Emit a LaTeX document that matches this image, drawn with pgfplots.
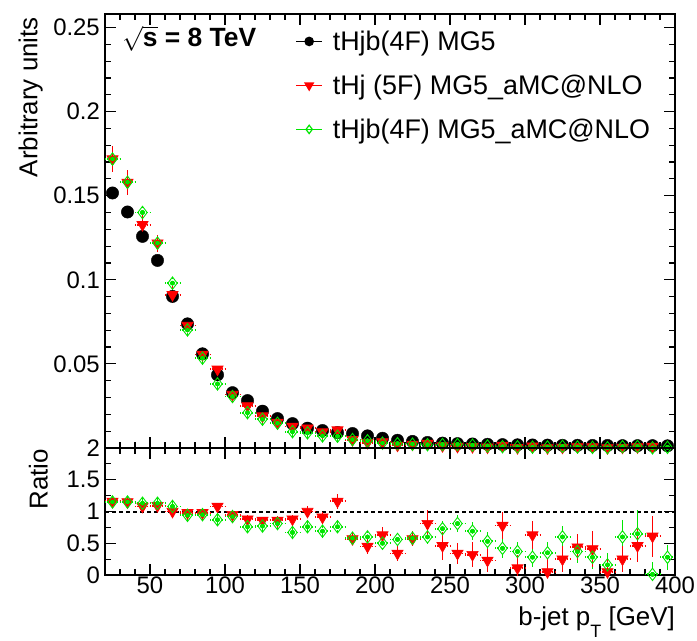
\documentclass[border=0pt]{standalone}
\usepackage{fontspec}
\setmainfont{Liberation Sans}
\usepackage{pgfplots}
\pgfplotsset{compat=1.18}
\usepackage{pgfplotstable}

\definecolor{rootred}{RGB}{255,0,0}
\definecolor{rootgreen}{RGB}{0,230,0}

% black: tHjb(4F) MG5
\pgfplotstableread{
x y
25 0.1516
35 0.1403
45 0.1258
55 0.1115
65 0.0901
75 0.0738
85 0.0560
95 0.0435
105 0.0329
115 0.0282
125 0.0219
135 0.0175
145 0.0145
155 0.0118
165 0.0104
175 0.0092
185 0.0086
195 0.0072
205 0.0058
215 0.0046
225 0.0039
235 0.0033
245 0.0029
255 0.0026
265 0.0024
275 0.0022
285 0.0020
295 0.0019
305 0.0018
315 0.0017
325 0.0016
335 0.0016
345 0.0015
355 0.0015
365 0.0014
375 0.0014
385 0.0014
395 0.0013
}\blackdata

% red: tHj (5F) MG5_aMC@NLO
\pgfplotstableread{
x y e
25 0.1718 0.0080
35 0.1579 0.0075
45 0.1327 0.0060
55 0.1218 0.0050
65 0.0911 0.0050
75 0.0728 0.0030
85 0.0556 0.0025
95 0.0468 0.0022
105 0.0318 0.0018
115 0.0250 0.0015
125 0.0190 0.0013
135 0.0152 0.0012
145 0.0128 0.0010
155 0.0118 0.0010
165 0.0095 0.0009
175 0.0107 0.0010
185 0.0049 0.0008
195 0.0032 0.0007
205 0.0036 0.0007
215 0.0016 0.0006
225 0.0022 0.0006
235 0.0027 0.0006
245 0.0013 0.0005
255 0.0009 0.0005
265 0.0008 0.0005
275 0.0005 0.0004
285 0.0016 0.0004
295 0.0002 0.0004
305 0.0011 0.0004
315 0.0001 0.0004
325 0.0004 0.0004
335 0.0007 0.0004
345 0.0006 0.0004
355 0.0001 0.0003
365 0.0004 0.0003
375 0.0006 0.0003
385 0.0009 0.0003
}\reddata

% green: tHjb(4F) MG5_aMC@NLO
\pgfplotstableread{
x y e
25 0.1718 0.0030
35 0.1580 0.0030
45 0.1400 0.0028
55 0.1218 0.0025
65 0.0980 0.0022
75 0.0702 0.0020
85 0.0534 0.0018
95 0.0381 0.0015
105 0.0306 0.0013
115 0.0210 0.0011
125 0.0171 0.0010
135 0.0147 0.0009
145 0.0097 0.0008
155 0.0090 0.0007
165 0.0072 0.0007
175 0.0070 0.0006
185 0.0050 0.0006
195 0.0043 0.0005
205 0.0029 0.0005
215 0.0026 0.0004
225 0.0023 0.0004
235 0.0020 0.0004
245 0.0021 0.0004
255 0.0021 0.0004
265 0.0017 0.0003
275 0.0012 0.0003
285 0.0008 0.0003
295 0.0007 0.0003
305 0.0005 0.0003
315 0.0006 0.0003
325 0.0010 0.0003
335 0.0006 0.0003
345 0.0004 0.0003
355 0.0002 0.0003
365 0.0008 0.0003
375 0.0009 0.0003
385 0.0001 0.0003
395 0.0004 0.0003
}\greendata

% ratios to black
\pgfplotstableread{
x y e
25 1.16 0.04
35 1.15 0.04
45 1.08 0.04
55 1.09 0.04
65 1.00 0.04
75 0.98 0.04
85 0.98 0.04
95 1.08 0.05
105 0.95 0.05
115 0.88 0.06
125 0.86 0.06
135 0.86 0.07
145 0.88 0.07
155 1.00 0.09
165 0.91 0.09
175 1.16 0.12
185 0.57 0.10
195 0.45 0.12
205 0.63 0.12
215 0.34 0.12
225 0.57 0.12
235 0.81 0.22
245 0.46 0.22
255 0.34 0.16
265 0.32 0.20
275 0.23 0.18
285 0.78 0.22
295 0.11 0.20
305 0.63 0.22
315 0.05 0.20
325 0.25 0.20
335 0.44 0.20
345 0.41 0.29
355 0.05 0.20
365 0.25 0.20
375 0.46 0.26
385 0.61 0.32
}\redratio

\pgfplotstableread{
x y e
25 1.15 0.02
35 1.15 0.02
45 1.13 0.02
55 1.13 0.02
65 1.08 0.02
75 0.94 0.02
85 0.95 0.02
95 0.87 0.03
105 0.92 0.03
115 0.76 0.03
125 0.77 0.03
135 0.81 0.04
145 0.67 0.04
155 0.76 0.04
165 0.69 0.05
175 0.76 0.05
185 0.58 0.06
195 0.60 0.06
205 0.50 0.07
215 0.56 0.08
225 0.58 0.09
235 0.60 0.10
245 0.73 0.12
255 0.81 0.13
265 0.69 0.14
275 0.53 0.14
285 0.42 0.15
295 0.37 0.15
305 0.28 0.16
315 0.35 0.17
325 0.60 0.17
335 0.37 0.18
345 0.28 0.18
355 0.16 0.18
365 0.60 0.26
375 0.65 0.37
385 0.01 0.20
395 0.28 0.20
}\greenratio

\newcommand\tickfont{\fontsize{24}{28}\selectfont}
\newcommand\labfont{\fontsize{26}{30}\selectfont}
\newcommand\legfont{\fontsize{27}{31}\selectfont}

\pgfplotsset{
  rootframe/.style={
    scale only axis, width=570bp,
    xmin=20, xmax=400,
    xtick={50,100,...,400},
    minor xtick={30,40,60,70,80,90,110,120,130,140,160,170,180,190,210,220,230,240,260,270,280,290,310,320,330,340,360,370,380,390},
    axis line style={line width=1.3bp},
    every tick/.style={black, line width=1.2bp},
    major tick length=11bp, minor tick length=6bp,
    tick align=inside,
    ticklabel style={font=\tickfont},
    /pgf/number format/assume math mode=true,
    scaled ticks=false,
  },
  errv/.style={only marks, mark=none, forget plot,
    error bars/.cd, y dir=both, y explicit, error mark=none,
    error bar style={line width=1.8bp, solid}},
  errvp/.style={only marks, mark=none, forget plot,
    error bars/.cd, y dir=plus, y explicit, error mark=none,
    error bar style={line width=1.4bp, solid, shorten <=6bp}},
  errvm/.style={only marks, mark=none, forget plot,
    error bars/.cd, y dir=minus, y explicit, error mark=none,
    error bar style={line width=1.4bp, solid, shorten <=6bp}},
  errhp/.style={only marks, mark=none, forget plot,
    error bars/.cd, x dir=plus, x fixed=5, error mark=none,
    error bar style={line width=1.8bp, dash pattern=on 1.6bp off 1.6bp, shorten <=4bp}},
  errhm/.style={only marks, mark=none, forget plot,
    error bars/.cd, x dir=minus, x fixed=5, error mark=none,
    error bar style={line width=1.8bp, dash pattern=on 1.6bp off 1.6bp, shorten <=4bp}},
  blk/.style={black, only marks, mark=*, mark size=6.2bp, forget plot},
  redm/.style={rootred, only marks, mark=triangle*, mark size=6.5bp,
    mark options={rotate=180, line width=0.6bp}, forget plot},
  grnm/.style={rootgreen, only marks, mark=diamond, mark size=6.2bp,
    mark options={line width=0.9bp}, forget plot},
}

\begin{document}
\begin{tikzpicture}
\path[use as bounding box] (0bp,0bp) rectangle (697bp,-641bp);

\begin{axis}[rootframe,
  at={(105bp,-448bp)}, anchor=south west, height=434bp,
  ymin=0, ymax=0.258,
  ytick={0,0.05,0.1,0.15,0.2,0.25},
  yticklabels={,0.05,0.1,0.15,0.2,0.25},
  minor ytick={0.01,0.02,0.03,0.04,0.06,0.07,0.08,0.09,0.11,0.12,0.13,0.14,0.16,0.17,0.18,0.19,0.21,0.22,0.23,0.24},
  xticklabels={},
  yticklabel style={anchor=east, inner sep=0pt, xshift=-5bp},
  ylabel={Arbitrary units},
  ylabel style={at={(axis description cs:-0.109,0.993)}, anchor=south east, inner sep=0pt, font=\labfont},
  legend style={at={(axis description cs:0.334,0.966)}, anchor=north west, draw=none, fill=none,
    font=\legfont, inner sep=0pt, row sep=19bp, cells={anchor=west},
    /tikz/every odd column/.append style={column sep=8bp}},
  legend image code/.code={\draw[mark repeat=2,mark phase=2,#1] plot coordinates {(0bp,0bp) (13bp,0bp) (26bp,0bp)};},
]
\addlegendimage{black, mark=*, mark size=4.2bp, line width=1.2bp}
\addlegendentry{tHjb(4F) MG5}
\addlegendimage{rootred, mark=triangle*, mark size=4.8bp, mark options={rotate=180}, line width=1.2bp}
\addlegendentry{tHj (5F) MG5\_aMC@NLO}
\addlegendimage{rootgreen, mark=diamond, mark size=4.2bp, line width=1.2bp}
\addlegendentry{tHjb(4F) MG5\_aMC@NLO}

\addplot[blk] table[x=x,y=y]{\blackdata};
\addplot[rootgreen, errvp] table[x=x,y=y,y error=e]{\greendata};
\addplot[rootgreen, errvm] table[x=x,y=y,y error=e]{\greendata};
\addplot[rootred, errv] table[x=x,y=y,y error=e]{\reddata};
\addplot[rootred, errhp] table[x=x,y=y]{\reddata};
\addplot[rootred, errhm] table[x=x,y=y]{\reddata};
\addplot[redm] table[x=x,y=y]{\reddata};
\addplot[rootgreen, errhp] table[x=x,y=y]{\greendata};
\addplot[rootgreen, errhm] table[x=x,y=y]{\greendata};
\addplot[grnm] table[x=x,y=y]{\greendata};

\node[anchor=base west, inner sep=0pt, font=\fontsize{26.5}{30}\selectfont\bfseries] at (axis description cs:0.030,0.924)
  {$\sqrt{\textbf{s}}$ = 8 TeV};
\end{axis}

\begin{axis}[rootframe,
  at={(105bp,-575bp)}, anchor=south west, height=127bp,
  ymin=0, ymax=2,
  ytick={0,0.5,1,1.5,2},
  yticklabels={0,0.5,1,1.5,2},
  minor ytick={0.25,0.75,1.25,1.75},
  yticklabel style={anchor=east, inner sep=0pt, xshift=-5bp},
  xticklabel style={anchor=north, inner sep=0pt, yshift=-2bp},
  ylabel={Ratio},
  ylabel style={at={(axis description cs:-0.100,0.992)}, anchor=south east, inner sep=0pt, font=\labfont},
  xlabel={b-jet p\raisebox{-12bp}{\fontsize{18}{18}\selectfont T} [GeV]},
  xlabel style={at={(axis description cs:1,-0.394)}, anchor=base east, inner sep=0pt, font=\labfont},
]
\addplot[black, line width=2bp, dash pattern=on 4bp off 3bp, forget plot] coordinates {(20,1) (400,1)};
\addplot[rootgreen, errvp] table[x=x,y=y,y error=e]{\greenratio};
\addplot[rootgreen, errvm] table[x=x,y=y,y error=e]{\greenratio};
\addplot[rootred, errv] table[x=x,y=y,y error=e]{\redratio};
\addplot[rootred, errhp] table[x=x,y=y]{\redratio};
\addplot[rootred, errhm] table[x=x,y=y]{\redratio};
\addplot[redm] table[x=x,y=y]{\redratio};
\addplot[rootgreen, errhp] table[x=x,y=y]{\greenratio};
\addplot[rootgreen, errhm] table[x=x,y=y]{\greenratio};
\addplot[grnm] table[x=x,y=y]{\greenratio};
\end{axis}
\end{tikzpicture}
\end{document}
